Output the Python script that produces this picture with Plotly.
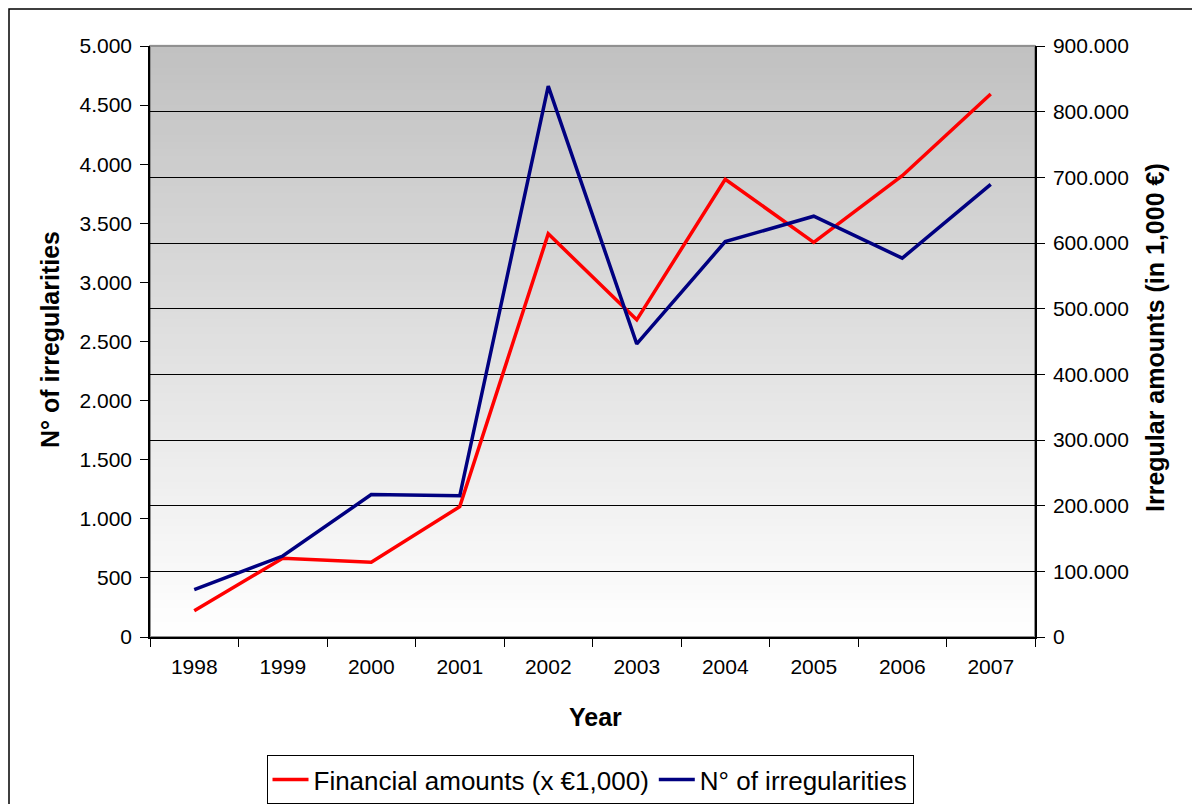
import plotly.graph_objects as go

# data
years = ['1998', '1999', '2000', '2001', '2002', '2003', '2004', '2005', '2006', '2007']
irregularities = [400, 685, 1205, 1195, 4660, 2480, 3345, 3560, 3205, 3830]
amounts = [40000, 120000, 114000, 198500, 614000, 483000, 697000, 601000, 702500, 827000]

font_family = 'Liberation Sans, Arial, sans-serif'

# the page body has an 8px margin, so the figure is a bit smaller than the window
W, H = 1192, 796
L, T = 142, 38
pw, ph = 885, 591
R, B = W - L - pw, H - T - ph

# page pixel -> paper coordinates (plot area spans x 150..1035, y 46..637 on the page)
def px(x):
    return (x - 150) / pw

def py(y):
    return (637 - y) / ph

fig = go.Figure()

fig.add_trace(go.Scatter(
    x=years, y=amounts, name='Financial amounts (x €1,000)',
    mode='lines', line=dict(color='#ff0000', width=3.5), yaxis='y'))
fig.add_trace(go.Scatter(
    x=years, y=irregularities, name='N° of irregularities',
    mode='lines', line=dict(color='#000080', width=3.5), yaxis='y2'))

# gray-to-white gradient background of the plot area
shapes = []
n_bands = 80
for i in range(n_bands):
    t = i / n_bands
    g = int(round(192 + (255 - 192) * (1 - t)))
    shapes.append(dict(
        type='rect', xref='x domain', yref='y domain',
        x0=0, x1=1, y0=t, y1=t + 1.0 / n_bands + 0.002,
        fillcolor=f'rgb({g},{g},{g})', line=dict(width=0), layer='below'))
# plot area frame (gray on top/right)
shapes.append(dict(type='rect', xref='x domain', yref='y domain', x0=0, x1=1, y0=0, y1=1,
                   line=dict(color='#909090', width=2), layer='below'))
# outer chart border
shapes.append(dict(type='rect', xref='paper', yref='paper',
                   x0=px(9), x1=px(1197), y0=py(830), y1=py(9),
                   line=dict(color='black', width=1.5), layer='above'))

fig.update_layout(
    width=W, height=H,
    margin=dict(l=L, r=R, t=T, b=B),
    paper_bgcolor='white', plot_bgcolor='white',
    separators=',.',
    font=dict(family=font_family, size=21, color='black'),
    shapes=shapes,
    showlegend=True,
    # legend placed in container coordinates so it does not push the plot margins
    legend=dict(orientation='h', xref='container', yref='container',
                x=(590 - 8) / W, xanchor='center', y=1 - (755 - 8) / H, yanchor='top',
                bordercolor='black', borderwidth=1, bgcolor='white',
                font=dict(size=26), itemwidth=36),
    xaxis=dict(type='category', tickson='boundaries', range=[-0.5, 9.5],
               ticks='outside', ticklen=8, tickcolor='black', ticklabelstandoff=10,
               showline=True, linecolor='black', linewidth=1.5,
               showgrid=False, tickfont=dict(size=21)),
    yaxis=dict(side='right', range=[0, 900000], dtick=100000, tickformat=',d',
               ticks='outside', ticklen=8, tickcolor='black', ticklabelstandoff=4,
               showline=True, linecolor='black', linewidth=1.5,
               showgrid=True, gridcolor='black', gridwidth=1, zeroline=False),
    yaxis2=dict(side='left', overlaying='y', range=[0, 5000], dtick=500, tickformat=',d',
                ticks='outside', ticklen=8, tickcolor='black', ticklabelstandoff=4,
                showline=True, linecolor='black', linewidth=1.5,
                showgrid=False, zeroline=False),
    annotations=[
        dict(text='<b>N° of irregularities</b>', xref='paper', yref='paper',
             x=px(50), y=py(340), textangle=-90, showarrow=False,
             font=dict(size=25), xanchor='center', yanchor='middle'),
        dict(text='<b>Irregular amounts (in 1,000 €)</b>', xref='paper', yref='paper',
             x=px(1155), y=py(338), textangle=-90, showarrow=False,
             font=dict(size=25), xanchor='center', yanchor='middle'),
        dict(text='<b>Year</b>', xref='paper', yref='paper',
             x=px(595), y=py(717), showarrow=False,
             font=dict(size=25), xanchor='center', yanchor='middle'),
    ],
)

fig.write_html('out.html')
